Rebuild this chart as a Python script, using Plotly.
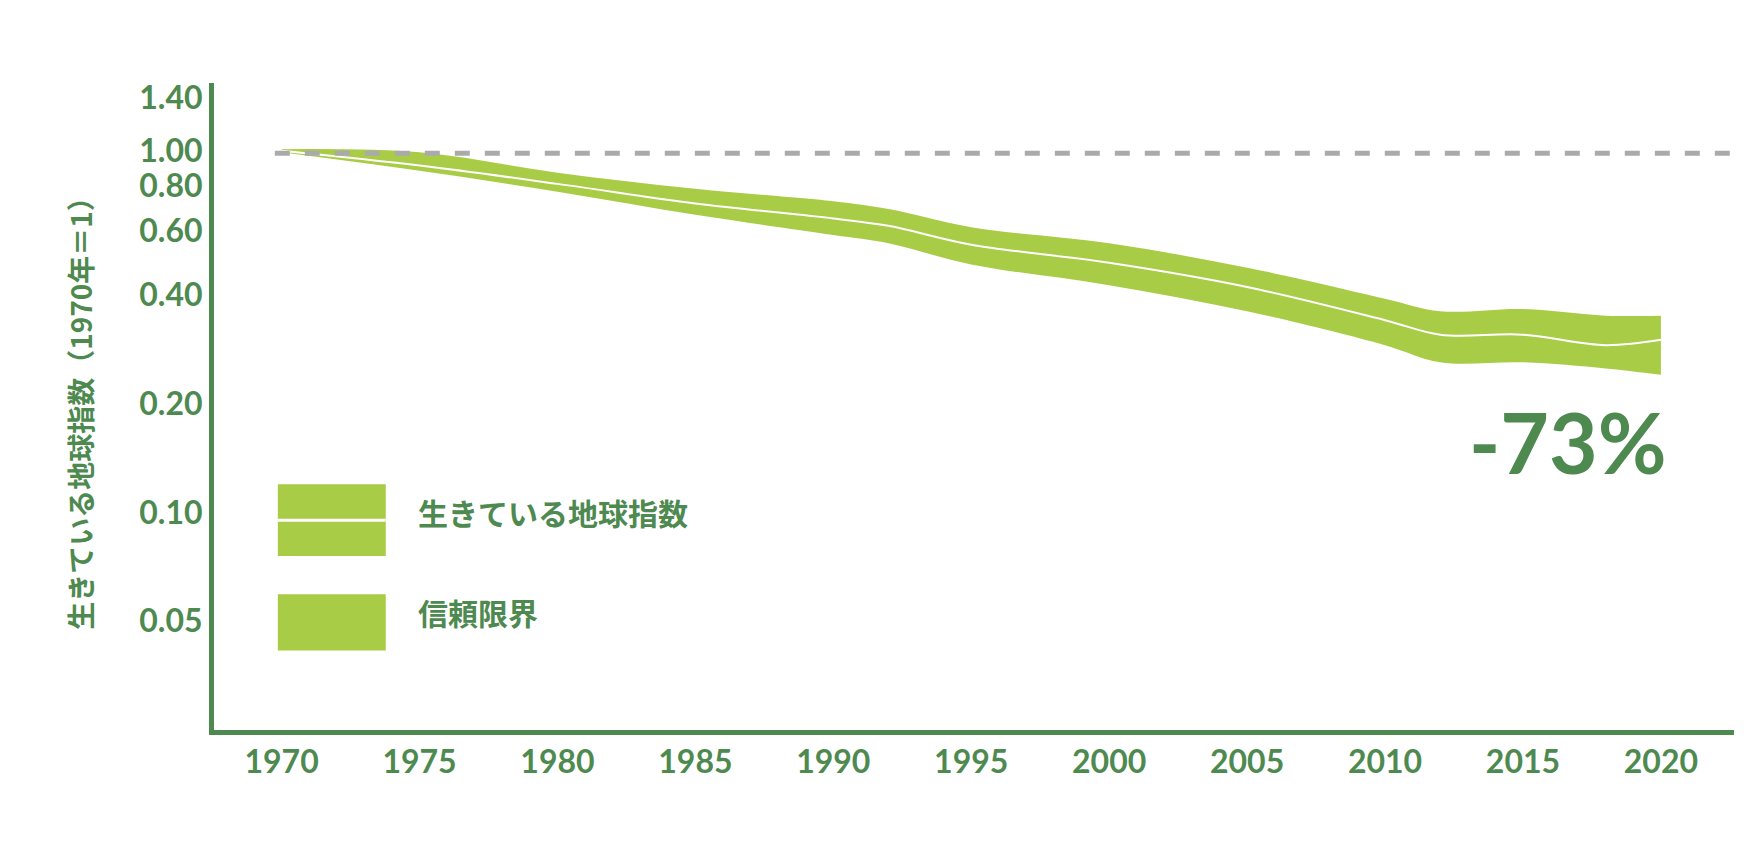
import plotly.graph_objects as go
import math

years = [1970, 1975, 1980, 1985, 1990, 1992, 1995, 2000, 2005, 2010, 2012, 2015, 2018, 2020]
index = [1.00, 0.91, 0.81, 0.715, 0.65, 0.62, 0.55, 0.49, 0.42, 0.34, 0.31, 0.31, 0.29, 0.30]
upper = [1.01, 0.99, 0.87, 0.785, 0.725, 0.69, 0.615, 0.555, 0.475, 0.39, 0.36, 0.365, 0.35, 0.35]
lower = [0.99, 0.88, 0.77, 0.665, 0.585, 0.555, 0.485, 0.425, 0.36, 0.29, 0.26, 0.26, 0.25, 0.24]
ytick_vals = [0.05, 0.10, 0.20, 0.40, 0.60, 0.80, 1.00, 1.40]
ytick_text = ["0.05", "0.10", "0.20", "0.40", "0.60", "0.80", "1.00", "1.40"]
xtick_vals = list(range(1970, 2021, 5))

DG = "#4e8a50"
LG = "#a8cc45"
F = "Noto Sans CJK JP"

fig = go.Figure()
fig.add_trace(go.Scatter(x=years, y=lower, mode="lines", line=dict(width=0, color=LG, shape="spline"), showlegend=False))
fig.add_trace(go.Scatter(x=years, y=upper, mode="lines", fill="tonexty", fillcolor=LG,
                         line=dict(width=0, color=LG, shape="spline"), showlegend=False))
fig.add_trace(go.Scatter(x=years, y=index, mode="lines", line=dict(width=2, color="white", shape="spline"), showlegend=False))

fig.add_shape(type="line", xref="paper", yref="y", x0=0.04, x1=1.0, y0=0.985, y1=0.985,
              line=dict(color="#aaaaaa", width=5, dash="dash"))

# legend
fig.add_shape(type="rect", xref="paper", yref="paper", x0=0.042, x1=0.113, y0=0.269, y1=0.380, fillcolor=LG, line_width=0)
fig.add_shape(type="line", xref="paper", yref="paper", x0=0.042, x1=0.113, y0=0.324, y1=0.324, line=dict(color="white", width=3))
fig.add_shape(type="rect", xref="paper", yref="paper", x0=0.042, x1=0.113, y0=0.123, y1=0.210, fillcolor=LG, line_width=0)
fig.add_annotation(xref="paper", yref="paper", x=0.133, y=0.300, text="生きている地球指数", showarrow=False,
                   xanchor="left", font=dict(family=F, size=30, color=DG, weight="bold"))
fig.add_annotation(xref="paper", yref="paper", x=0.133, y=0.145, text="信頼限界", showarrow=False,
                   xanchor="left", font=dict(family=F, size=30, color=DG, weight="bold"))
fig.add_annotation(xref="x", yref="paper", x=2020.3, y=0.446, text="-73%", showarrow=False,
                   xanchor="right", font=dict(family="Lato", size=84, color=DG, weight="bold"))

fig.update_layout(
    width=1760, height=860, plot_bgcolor="white", paper_bgcolor="white",
    margin=dict(l=206, r=34, t=75, b=138),
    xaxis=dict(range=[1967.55, 2022.65], tickvals=xtick_vals, showgrid=False, zeroline=False,
               showline=True, linecolor=DG, linewidth=5, ticks="",
               tickfont=dict(family="Lato", size=32, color=DG, weight="bold")),
    yaxis=dict(type="log", range=[math.log10(0.025), math.log10(1.54)], tickvals=ytick_vals, ticktext=ytick_text,
               showgrid=False, zeroline=False, showline=True, linecolor=DG, linewidth=5, ticks="",
               tickfont=dict(family="Lato", size=32, color=DG, weight="bold"),
               title=dict(text="生きている地球指数（1970年＝1）", standoff=40,
                          font=dict(family=F, size=28, color=DG, weight="bold"))),
)
fig.write_html("out.html")
